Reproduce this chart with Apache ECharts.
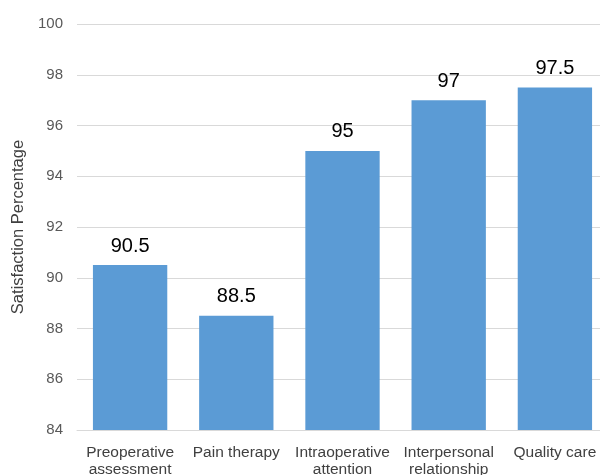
<!DOCTYPE html>
<html>
<head>
<meta charset="utf-8">
<script src="https://cdn.jsdelivr.net/npm/echarts@6/dist/echarts.min.js"></script>
<style>
  html, body { margin: 0; padding: 0; background: #ffffff; }
  #chart { width: 600px; height: 475px; }
</style>
</head>
<body>
<div id="chart"></div>
<script>
// Survey domains and satisfaction scores (%)
const categories = [
  'Preoperative\nassessment',
  'Pain therapy',
  'Intraoperative\nattention',
  'Interpersonal\nrelationship',
  'Quality care'
];
const satisfaction = [90.5, 88.5, 95, 97, 97.5];
const yMin = 84;
const yMax = 100;
const yStep = 2;

const chart = echarts.init(document.getElementById('chart'), null, { renderer: 'canvas' });
const font = '"Liberation Sans", Arial, Helvetica, sans-serif';

chart.setOption({
  animation: false,
  backgroundColor: '#ffffff',
  grid: {
    left: 77, top: 24, width: 531, bottom: 45,
    containLabel: false,
    outerBoundsMode: 'none'
  },
  xAxis: {
    type: 'category',
    data: categories,
    axisLine: { show: true, lineStyle: { color: '#d9d9d9', width: 1 } },
    axisTick: { show: false },
    axisLabel: {
      interval: 0,
      color: '#404040',
      fontFamily: font,
      fontSize: 15.5,
      lineHeight: 17,
      margin: 14
    }
  },
  yAxis: {
    type: 'value',
    min: yMin,
    max: yMax,
    interval: yStep,
    name: 'Satisfaction Percentage',
    nameLocation: 'middle',
    nameGap: 49,
    nameRotate: 90,
    nameTextStyle: { color: '#404040', fontFamily: font, fontSize: 16.5 },
    axisLine: { show: false },
    axisTick: { show: false },
    splitLine: { lineStyle: { color: '#d9d9d9', width: 1 } },
    axisLabel: { color: '#595959', fontFamily: font, fontSize: 15, margin: 14 }
  },
  series: [{
    type: 'bar',
    data: satisfaction,
    barCategoryGap: '30%',
    itemStyle: { color: '#5b9bd5' },
    label: {
      show: true,
      position: 'top',
      distance: 9,
      color: '#000000',
      fontFamily: font,
      fontSize: 20
    }
  }]
});
</script>
</body>
</html>
